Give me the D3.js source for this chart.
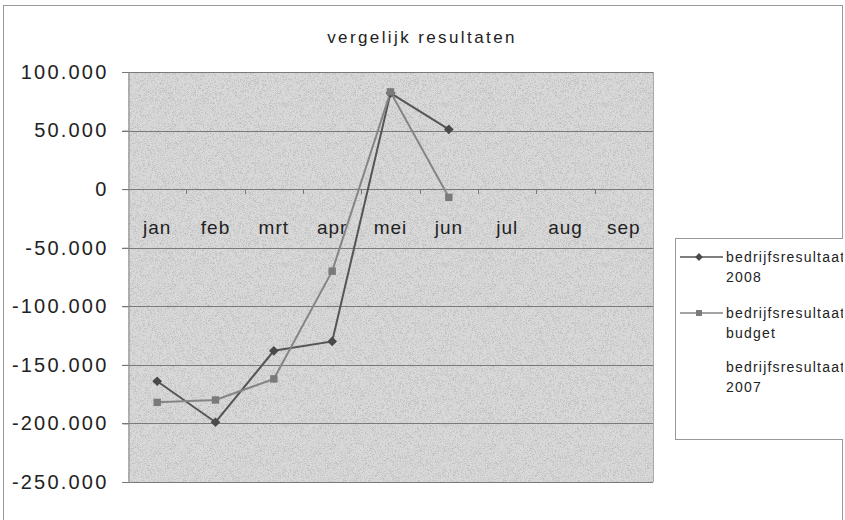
<!DOCTYPE html>
<html>
<head>
<meta charset="utf-8">
<script src="https://cdn.jsdelivr.net/npm/d3@7"></script>
<style>
  body { margin: 0; background: #fff; }
  text { font-family: "Liberation Sans", Arial, sans-serif; fill: #222; }
</style>
</head>
<body>
<div id="chart"></div>
<script>
// chart data
var months = ["jan", "feb", "mrt", "apr", "mei", "jun", "jul", "aug", "sep"];
var res2008 = [-164000, -199000, -138000, -130000, 82000, 51000];
var resBudget = [-182000, -180000, -162000, -70000, 83000, -7000];
var res2007 = [];
var seriesNames = ["bedrijfsresultaat 2008", "bedrijfsresultaat budget", "bedrijfsresultaat 2007"];
var yTicks = [100000, 50000, 0, -50000, -100000, -150000, -200000, -250000];

var svgWidth = 845;
var svgHeight = 520;

var plot = { left: 128, top: 72, right: 653, bottom: 482 };

var svg = d3.select("#chart")
  .append("svg")
  .attr("width", svgWidth)
  .attr("height", svgHeight);

// grainy fill like the scanned print
var defs = svg.append("defs");
var grain = defs.append("filter").attr("id", "grain")
  .attr("x", 0).attr("y", 0).attr("width", 1).attr("height", 1);
grain.append("feTurbulence")
  .attr("type", "fractalNoise")
  .attr("baseFrequency", 1.6)
  .attr("numOctaves", 1)
  .attr("seed", 3)
  .attr("result", "noise");
grain.append("feColorMatrix")
  .attr("type", "matrix")
  .attr("values", "0 0 0 0 0.45  0 0 0 0 0.45  0 0 0 0 0.45  0 0 0 -2.6 1.45")
  .attr("result", "dots");
grain.append("feFlood").attr("flood-color", "#dadada").attr("result", "bg");
grain.append("feComposite").attr("in", "dots").attr("in2", "bg").attr("operator", "over");

defs.append("clipPath").attr("id", "chartClip")
  .append("rect").attr("x", 0).attr("y", 0).attr("width", 843).attr("height", svgHeight);

// outer chart border
svg.append("rect")
  .attr("x", 3.5).attr("y", 5.5)
  .attr("width", 839).attr("height", 530)
  .attr("fill", "none")
  .attr("stroke", "#999")
  .attr("stroke-width", 1);

// title
svg.append("text")
  .attr("x", 422)
  .attr("y", 43)
  .attr("text-anchor", "middle")
  .attr("font-size", 17)
  .attr("letter-spacing", 2.4)
  .attr("fill", "#333")
  .text("vergelijk resultaten");

var x = d3.scaleBand()
  .domain(months)
  .range([plot.left, plot.right]);

var y = d3.scaleLinear()
  .domain([-250000, 100000])
  .range([plot.bottom, plot.top]);

var nl = d3.formatLocale({ decimal: ",", thousands: ".", grouping: [3], currency: ["€", ""], minus: "-" });
var fmt = nl.format(",");

// plot area
svg.append("rect")
  .attr("x", plot.left).attr("y", plot.top)
  .attr("width", plot.right - plot.left)
  .attr("height", plot.bottom - plot.top)
  .attr("fill", "#cdcdcd")
  .attr("filter", "url(#grain)");

// gridlines
svg.append("g")
  .selectAll("line")
  .data(yTicks)
  .enter()
  .append("line")
  .attr("x1", plot.left - 6)
  .attr("x2", plot.right)
  .attr("y1", d => Math.round(y(d)) + 0.5)
  .attr("y2", d => Math.round(y(d)) + 0.5)
  .attr("stroke", "#7a7a7a")
  .attr("stroke-width", 1);

// plot frame right edge
svg.append("line")
  .attr("x1", plot.right + 0.5).attr("x2", plot.right + 0.5)
  .attr("y1", plot.top).attr("y2", plot.bottom)
  .attr("stroke", "#aaa");

// y axis
var leftAxis = d3.axisLeft(y)
  .tickValues(yTicks)
  .tickFormat(fmt)
  .tickSize(6)
  .tickPadding(14);

var yAxis = svg.append("g")
  .attr("transform", `translate(${plot.left + 0.5}, 0)`)
  .call(leftAxis);
yAxis.select(".domain").attr("stroke", "#888");
yAxis.selectAll(".tick line").attr("stroke", "#777");
yAxis.selectAll("text")
  .attr("font-size", 20)
  .attr("letter-spacing", 2.2)
  .attr("fill", "#444")
  .attr("font-family", "'Liberation Sans', Arial, sans-serif");

// category axis on the zero line
var bottomAxis = d3.axisBottom(x)
  .tickSize(0)
  .tickPadding(31);

var xAxis = svg.append("g")
  .attr("transform", `translate(0, ${Math.round(y(0)) + 0.5})`)
  .call(bottomAxis);
xAxis.select(".domain").remove();
xAxis.selectAll("text")
  .attr("font-size", 19)
  .attr("letter-spacing", 1)
  .attr("fill", "#222")
  .attr("font-family", "'Liberation Sans', Arial, sans-serif");

// small tick marks between categories
svg.append("g")
  .selectAll("line")
  .data(months.slice(1))
  .enter()
  .append("line")
  .attr("x1", d => Math.round(x(d)) + 0.5)
  .attr("x2", d => Math.round(x(d)) + 0.5)
  .attr("y1", Math.round(y(0)))
  .attr("y2", Math.round(y(0)) + 5)
  .attr("stroke", "#777");

// lines
var lineGen = d3.line()
  .x((d, i) => x(months[i]) + x.bandwidth() / 2)
  .y(d => y(d));

svg.append("path")
  .datum(res2008)
  .attr("d", lineGen)
  .attr("fill", "none")
  .attr("stroke", "#555")
  .attr("stroke-width", 2);

svg.append("path")
  .datum(resBudget)
  .attr("d", lineGen)
  .attr("fill", "none")
  .attr("stroke", "#858585")
  .attr("stroke-width", 2);

var diamond = d3.symbol().type(d3.symbolDiamond2).size(60);
var square = d3.symbol().type(d3.symbolSquare).size(55);

svg.append("g")
  .selectAll("path")
  .data(res2008)
  .enter()
  .append("path")
  .attr("d", diamond)
  .attr("transform", (d, i) => `translate(${x(months[i]) + x.bandwidth() / 2}, ${y(d)})`)
  .attr("fill", "#4a4a4a");

svg.append("g")
  .selectAll("path")
  .data(resBudget)
  .enter()
  .append("path")
  .attr("d", square)
  .attr("transform", (d, i) => `translate(${x(months[i]) + x.bandwidth() / 2}, ${y(d)})`)
  .attr("fill", "#7a7a7a");

// legend
var legend = svg.append("g").attr("clip-path", "url(#chartClip)");

legend.append("rect")
  .attr("x", 675.5).attr("y", 238.5)
  .attr("width", 200).attr("height", 201)
  .attr("fill", "#fff")
  .attr("stroke", "#999");

var legendRows = [
  { y: 257, words: ["bedrijfsresultaat", "2008"], mark: "diamond", color: "#555", data: res2008 },
  { y: 313, words: ["bedrijfsresultaat", "budget"], mark: "square", color: "#858585", data: resBudget },
  { y: 367, words: ["bedrijfsresultaat", "2007"], mark: "none", color: "none", data: res2007 }
];

legendRows.forEach(function(r) {
  if (r.mark !== "none") {
    legend.append("line")
      .attr("x1", 680).attr("x2", 723)
      .attr("y1", r.y).attr("y2", r.y)
      .attr("stroke", r.color)
      .attr("stroke-width", 1.5);
    legend.append("path")
      .attr("d", r.mark === "diamond" ? diamond : square)
      .attr("transform", `translate(699, ${r.y}) scale(0.8)`)
      .attr("fill", r.mark === "diamond" ? "#4a4a4a" : "#7a7a7a");
  }
  var t = legend.append("text")
    .attr("x", 726)
    .attr("y", r.y + 5)
    .attr("font-size", 14)
    .attr("letter-spacing", 1.2)
    .attr("fill", "#333");
  t.append("tspan").attr("x", 726).text(r.words[0]);
  t.append("tspan").attr("x", 726).attr("dy", 20).text(r.words[1]);
});
</script>
</body>
</html>
